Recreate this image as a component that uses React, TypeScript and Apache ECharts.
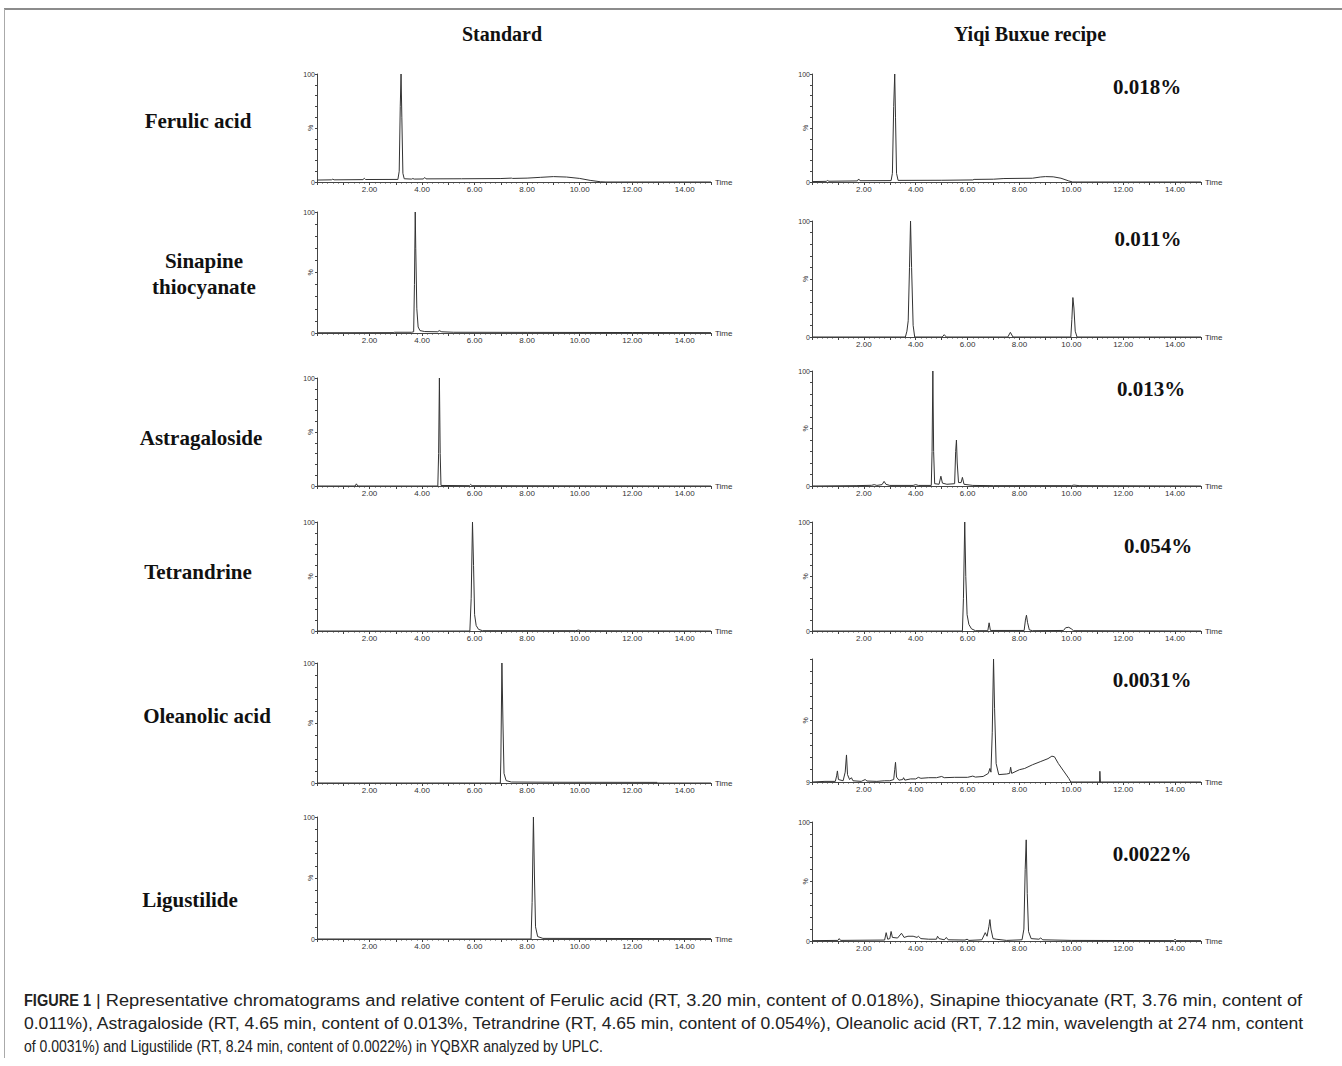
import React, { useEffect, useRef } from "react";
import * as echarts from "echarts";

// ---------- DATA ----------
const columnTitles = ["Standard", "Yiqi Buxue recipe"];
const compounds = ["Ferulic acid", "Sinapine\nthiocyanate", "Astragaloside", "Tetrandrine", "Oleanolic acid", "Ligustilide"];
const contents = ["0.018%", "0.011%", "0.013%", "0.054%", "0.0031%", "0.0022%"];
const timeMin = 0;
const timeMax = 15;
const timeLabelEvery = 2;

// chromatogram vertices [time (min), relative intensity (%)]
const ferulicStd = [[0,1.8],[0.55,2],[0.6,2.6],[0.65,2],[1.75,2.2],[1.8,3.4],[1.85,2.3],[3.08,2.4],[3.13,10],[3.17,70],[3.2,100],[3.23,60],[3.27,8],[3.32,3],[3.6,2.7],[3.65,3.2],[3.7,2.7],[4.05,2.8],[4.1,4.2],[4.15,2.9],[5.5,3],[7.0,3.2],[7.4,3.6],[7.45,3.3],[8.0,3.6],[8.5,4.3],[9.0,5],[9.5,4.6],[10.0,3.3],[10.4,1.5],[10.8,0.2],[11,0],[15,0]];
const ferulicRecipe = [[0,0.4],[0.55,0.6],[0.6,1.4],[0.65,0.7],[1.75,1],[1.8,2.8],[1.85,1.2],[3.05,1.3],[3.1,8],[3.15,70],[3.19,100],[3.22,60],[3.26,8],[3.32,1.5],[5,1.6],[6.2,1.9],[6.25,2.4],[7,2.6],[7.4,3.2],[8.5,3.5],[8.8,4.6],[9.0,5],[9.3,4.8],[9.6,3.5],[9.9,1],[10.05,0],[15,0]];
const sinapineStd = [[0,0.2],[2.9,0.3],[2.95,0.6],[3.6,0.6],[3.68,1],[3.71,40],[3.74,100],[3.76,70],[3.8,20],[3.85,5],[3.92,2],[4.1,1.2],[4.6,1],[4.65,2],[4.75,1],[5.2,0.6],[8,0.5],[12,0.4],[15,0.3]];
const sinapineRecipe = [[0,0],[3.6,0],[3.66,5],[3.71,14],[3.76,60],[3.8,100],[3.84,60],[3.9,10],[3.96,0],[5.02,0],[5.1,2],[5.18,0],[7.55,0],[7.65,4],[7.75,0],[9.98,0],[10.02,15],[10.06,34],[10.1,25],[10.15,5],[10.22,0],[15,0]];
const astragalosideStd = [[0,0],[1.45,0],[1.5,2],[1.55,0],[4.6,0],[4.63,30],[4.66,100],[4.69,30],[4.72,0.5],[5.8,0.3],[5.85,1.5],[5.9,0.3],[15,0]];
const astragalosideRecipe = [[0,0],[1.7,0.3],[2.3,0.6],[2.4,1.2],[2.5,0.5],[2.7,1.2],[2.78,4],[2.85,1.5],[3.0,0.5],[3.9,0.5],[4.0,1.2],[4.1,0.5],[4.6,0.5],[4.63,30],[4.66,100],[4.69,30],[4.73,2],[4.9,1.5],[4.97,8.5],[5.03,2.5],[5.2,1.5],[5.5,2],[5.54,30],[5.57,40],[5.6,20],[5.65,3],[5.75,3],[5.8,7.5],[5.86,1.5],[6.2,0.5],[7.0,0.3],[10.0,0.3],[10.1,0.8],[10.3,0.3],[15,0]];
const tetrandrineStd = [[0,0],[5.82,0],[5.87,30],[5.92,100],[5.96,60],[6.0,15],[6.06,5],[6.15,1.5],[6.3,0.3],[9.85,0.3],[9.95,0.8],[10.05,0.3],[15,0]];
const tetrandrineRecipe = [[0,0],[5.8,0],[5.84,30],[5.89,100],[5.93,50],[5.98,15],[6.05,6],[6.15,2],[6.3,0.3],[6.78,0.3],[6.83,7.5],[6.88,0.5],[8.18,0.5],[8.23,10],[8.27,14.5],[8.31,8],[8.38,1],[8.5,0.3],[9.7,0.5],[9.78,3],[9.9,3.4],[10.0,2],[10.08,0.3],[15,0]];
const oleanolicStd = [[0,0],[6.98,0],[7.0,20],[7.04,100],[7.08,50],[7.12,8],[7.2,2],[7.4,0.8],[9,0.6],[12.95,0.5],[12.97,0],[15,0]];
const oleanolicRecipe = [[0,0],[0.5,0.5],[0.9,0.5],[0.95,5],[0.98,9],[1.02,2],[1.2,1],[1.28,8],[1.33,22],[1.37,6],[1.45,2],[1.52,3.5],[1.58,1],[1.9,0.5],[2.05,2],[2.12,0.8],[2.5,0.5],[2.8,1],[3.0,1],[3.15,2],[3.19,10],[3.22,16],[3.26,4],[3.35,1.5],[3.5,2],[3.53,3.5],[3.58,1.5],[3.8,2.5],[4.0,2.5],[4.1,3.8],[4.2,3],[4.5,3.5],[4.8,3.5],[5.0,4.5],[5.1,3.5],[5.5,3.8],[6.0,3.8],[6.2,4.8],[6.3,4],[6.6,4.5],[6.8,7],[6.86,11],[6.9,8],[6.95,40],[7.0,100],[7.04,60],[7.1,15],[7.2,6],[7.5,6.5],[7.62,7],[7.66,12],[7.7,7],[8.0,10],[8.2,11],[8.5,14],[8.8,16.5],[9.1,19],[9.25,21],[9.35,20.5],[9.5,15],[9.7,9],[9.9,3],[9.98,0],[11.09,0],[11.1,8.7],[11.12,0],[15,0]];
const ligustilideStd = [[0,0],[8.15,0],[8.19,30],[8.24,100],[8.28,50],[8.32,10],[8.4,2],[8.6,0.5],[15,0.3]];
const ligustilideRecipe = [[0,0.3],[1.0,0.5],[1.05,2],[1.1,0.5],[2.8,0.8],[2.86,7],[2.92,1.5],[3.0,2],[3.05,8],[3.1,3],[3.3,2.5],[3.45,6.5],[3.55,3],[3.7,4],[3.9,4],[4.05,3],[4.1,4],[4.2,2],[4.5,1.5],[4.8,1.5],[4.84,4],[4.9,2],[5.1,1],[5.18,3],[5.25,1],[5.9,0.8],[5.98,1.5],[6.05,0.5],[6.55,1],[6.68,7],[6.75,4],[6.82,12],[6.86,18],[6.9,10],[6.98,2],[7.1,1.5],[7.5,0.5],[8.1,1],[8.17,10],[8.22,60],[8.26,85],[8.3,40],[8.35,8],[8.45,2],[8.75,1.5],[8.82,2.5],[8.9,1],[10,0.5],[13.95,0.3],[14.0,1.5],[14.05,0.3],[15,0.3]];

const standardTraces = [ferulicStd, sinapineStd, astragalosideStd, tetrandrineStd, oleanolicStd, ligustilideStd];
const recipeTraces = [ferulicRecipe, sinapineRecipe, astragalosideRecipe, tetrandrineRecipe, oleanolicRecipe, ligustilideRecipe];

const captionBold = "FIGURE 1";
const captionLines = [
  "| Representative chromatograms and relative content of Ferulic acid (RT, 3.20 min, content of 0.018%), Sinapine thiocyanate (RT, 3.76 min, content of",
  "0.011%), Astragaloside (RT, 4.65 min, content of 0.013%, Tetrandrine (RT, 4.65 min, content of 0.054%), Oleanolic acid (RT, 7.12 min, wavelength at 274 nm, content",
  "of 0.0031%) and Ligustilide (RT, 8.24 min, content of 0.0022%) in YQBXR analyzed by UPLC.",
];

// ---------- LAYOUT ----------
const W = 1342;
const H = 1066;
const colBox = [
  { left: 317, width: 394 },
  { left: 812, width: 389 },
];
const rowBoxes = [
  [[74, 108], [212, 121], [378, 108], [522, 109], [663, 120], [817, 122]],
  [[74, 108], [221, 116], [371, 115], [522, 109], [659, 123], [822, 119]],
];
const labelPos = [[198, 121], [204, 274], [201, 438], [198, 572], [207, 716], [190, 900]];
const pctPos = [[1147, 87], [1148, 239], [1151, 389], [1158, 546], [1152, 680], [1152, 854]];
const headerPos = [[502, 34], [1030, 34]];
const captionGeom = [
  { x: 96, y: 1000, right: 1303 },
  { x: 24, y: 1023, right: 1305 },
  { x: 24, y: 1046, right: 604 },
];

const SERIF = "'Liberation Serif', 'Times New Roman', serif";
const SANS = "'Liberation Sans', Arial, sans-serif";
const AXIS = "#444";

let measureCtx: CanvasRenderingContext2D | null = null;
function measure(text: string, font: string): number {
  if (!measureCtx) measureCtx = document.createElement("canvas").getContext("2d");
  if (!measureCtx) return text.length * 7;
  measureCtx.font = font;
  return measureCtx.measureText(text).width;
}

export default function App() {
  const ref = useRef<HTMLDivElement>(null);
  useEffect(() => {
    if (!ref.current) return;
    const chart = echarts.init(ref.current, undefined, { renderer: "svg" });
    const grids: any[] = [];
    const xAxes: any[] = [];
    const yAxes: any[] = [];
    const series: any[] = [];
    let gi = 0;
    for (let c = 0; c < 2; c++) {
      const traces = c === 0 ? standardTraces : recipeTraces;
      for (let r = 0; r < 6; r++) {
        const [top, height] = rowBoxes[c][r];
        grids.push({ left: colBox[c].left, width: colBox[c].width, top, height });
        xAxes.push({
          type: "value", gridIndex: gi, min: timeMin, max: timeMax, interval: 1,
          name: "Time", nameLocation: "end", nameGap: 4,
          nameTextStyle: { fontSize: 8, color: "#333", fontFamily: SANS },
          axisLine: { show: true, lineStyle: { color: AXIS, width: 1 } },
          axisTick: { show: true, length: 3, lineStyle: { color: AXIS } },
          minorTick: { show: true, splitNumber: 5, length: 1.5, lineStyle: { color: AXIS } },
          splitLine: { show: false },
          axisLabel: {
            fontSize: 8, color: "#333", fontFamily: SANS, margin: 3,
            showMinLabel: true, showMaxLabel: true,
            formatter: (v: number) => (v > 0 && v < timeMax && v % timeLabelEvery === 0 ? v.toFixed(2) : ""),
          },
        });
        const odd = c === 1 && r === 4;
        yAxes.push({
          type: "value", gridIndex: gi, min: 0, max: 100, interval: 10, position: "left",
          axisLine: { show: true, lineStyle: { color: AXIS, width: 1 } },
          axisTick: { show: true, length: 2, lineStyle: { color: AXIS } },
          splitLine: { show: false },
          axisLabel: {
            fontSize: 7, color: "#333", fontFamily: SANS, margin: 2,
            showMinLabel: true, showMaxLabel: true,
            formatter: (v: number) => (v === 0 ? (odd ? "9" : "0") : v === 100 ? (odd ? "" : "100") : ""),
          },
        });
        yAxes.push({
          type: "value", gridIndex: gi, min: 0, max: 100, interval: 50, position: "left",
          axisLine: { show: false }, axisTick: { show: false }, splitLine: { show: false },
          axisLabel: {
            fontSize: 7, color: "#333", fontFamily: SANS, margin: 3, rotate: 90,
            formatter: (v: number) => (v === 50 ? "%" : ""),
          },
        });
        series.push({
          type: "line", xAxisIndex: gi, yAxisIndex: gi * 2, data: traces[r],
          showSymbol: false, symbol: "none", silent: true,
          lineStyle: { width: 1, color: "#333" },
        });
        gi++;
      }
    }

    const graphics: any[] = [
      { type: "line", shape: { x1: 4, y1: 9, x2: W, y2: 9 }, style: { stroke: "#666", lineWidth: 1.5 } },
      { type: "line", shape: { x1: 4.5, y1: 9, x2: 4.5, y2: 1058 }, style: { stroke: "#aaa", lineWidth: 1 } },
    ];
    columnTitles.forEach((t, i) => {
      graphics.push({
        type: "text", x: headerPos[i][0], y: headerPos[i][1],
        style: { text: t, font: `bold 20px ${SERIF}`, fill: "#111", textAlign: "center", textVerticalAlign: "middle" },
      });
    });
    compounds.forEach((t, i) => {
      graphics.push({
        type: "text", x: labelPos[i][0], y: labelPos[i][1],
        style: { text: t, font: `bold 21px ${SERIF}`, fill: "#111", textAlign: "center", textVerticalAlign: "middle", lineHeight: 26 },
      });
    });
    contents.forEach((t, i) => {
      graphics.push({
        type: "text", x: pctPos[i][0], y: pctPos[i][1],
        style: { text: t, font: `bold 21px ${SERIF}`, fill: "#111", textAlign: "center", textVerticalAlign: "middle" },
      });
    });
    // caption: each line fitted to its measured extent
    const capFont = `17px ${SANS}`;
    const boldFont = `bold 17px ${SANS}`;
    const bw = measure(captionBold, boldFont);
    graphics.push({
      type: "text", x: 24, y: captionGeom[0].y, scaleX: 67 / bw,
      style: { text: captionBold, font: boldFont, fill: "#222", textAlign: "left", textVerticalAlign: "middle" },
    });
    captionLines.forEach((t, i) => {
      const g = captionGeom[i];
      const w = measure(t, capFont);
      graphics.push({
        type: "text", x: g.x, y: g.y, scaleX: (g.right - g.x) / w,
        style: { text: t, font: capFont, fill: "#222", textAlign: "left", textVerticalAlign: "middle" },
      });
    });

    chart.setOption({
      animation: false,
      backgroundColor: "#fff",
      grid: grids,
      xAxis: xAxes,
      yAxis: yAxes,
      series,
      graphic: graphics,
    });
    return () => chart.dispose();
  }, []);
  return <div ref={ref} style={{ position: "absolute", left: 0, top: 0, width: W, height: H }} />;
}
